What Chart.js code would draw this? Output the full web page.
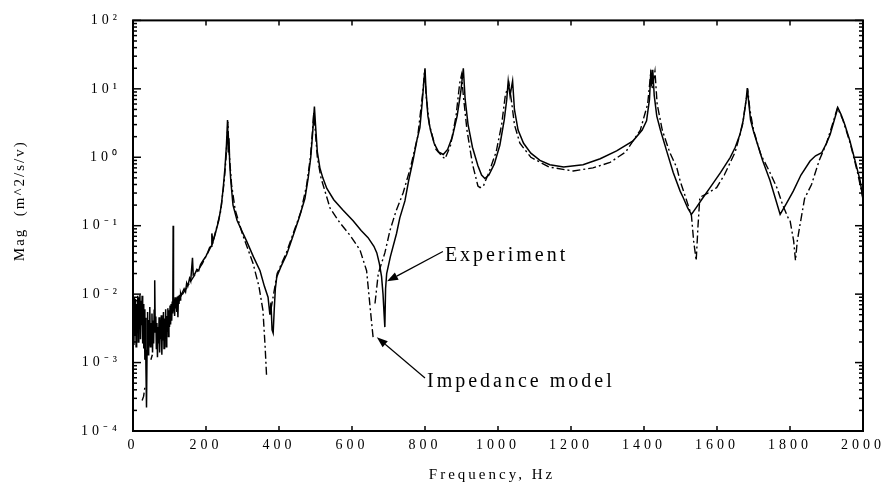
<!DOCTYPE html>
<html>
<head>
<meta charset="utf-8">
<script src="https://cdn.jsdelivr.net/npm/chart.js@4.4.1/dist/chart.umd.min.js"></script>
<style>
  html, body { margin: 0; padding: 0; background: #fff; }
  #chart { display: block; }
</style>
</head>
<body>
<canvas id="chart" width="887" height="489"></canvas>
<script>
// measured curve (solid)
const expFreq = [1,2.5,4,5.5,7,8.5,10,11.5,13,14.5,16,17.5,19,20.5,22,23.5,25,26.5,28,29.5,31,32.5,34,35.5,37,38.5,40,41.5,43,44.5,46,47.5,49,50.5,52,53.5,55,56.5,58,59.5,61,62.5,64,65.5,67,68.5,70,71.5,73,74.5,76,77.5,79,80.5,82,83.5,85,86.5,88,89.5,91,92.5,94,95.5,97,98.5,100,101.5,103,104.5,106,107.5,109,110,111,112.5,114,115.5,117,118.5,120,121.5,123,124.5,126,127.5,129,130.5,132,135,140,144,147,150,155,158,163,165,170,175,180,185,192,200,205,210,214,216,219,225,235,242,247,252,256,259,261,263,265,268,274,285,300,311,330,348,360,370,375,378,381,384,387,390,394,405,421,440,455,471,480,487,492,497,500,505,512,520,531,550,575,603,625,644,660,668,675,681,685,688,690,692,695,705,722,731,745,755,767,778,786,792,797,800,803,808,815,825,837,850,862,875,888,898,905,910,918,930,945,955,964,975,990,1005,1017,1024,1028,1033,1040,1045,1055,1070,1090,1115,1142,1180,1233,1280,1325,1370,1395,1407,1415,1419,1422,1424,1428,1435,1445,1462,1480,1499,1507,1520,1530,1545,1560,1581,1610,1636,1650,1663,1672,1680,1683,1686,1692,1700,1708,1725,1745,1760,1773,1790,1809,1830,1855,1870,1887,1900,1910,1920,1931,1940,1950,1964,1978,1992,2000];
const expMag = [0.006,0.0018,0.009,0.0025,0.0085,0.0017,0.007,0.0035,0.0095,0.002,0.009,0.0045,0.0098,0.0022,0.008,0.0035,0.0095,0.0019,0.0072,0.0016,0.006,0.0011,0.0045,0.0008,0.00022,0.0015,0.0055,0.0013,0.0042,0.0018,0.0065,0.0017,0.0038,0.0024,0.0052,0.0014,0.0041,0.0019,0.0058,0.016,0.0028,0.0047,0.0016,0.0038,0.0012,0.0033,0.0019,0.0046,0.0014,0.0037,0.0022,0.0049,0.0013,0.0035,0.0021,0.0055,0.0016,0.0044,0.0026,0.006,0.0017,0.0048,0.0029,0.0062,0.0024,0.0058,0.0033,0.0068,0.0036,0.0072,0.0041,0.0078,0.0052,0.1,0.0056,0.0085,0.0048,0.009,0.0062,0.0088,0.0055,0.0092,0.0046,0.0095,0.0072,0.0098,0.0082,0.0102,0.0095,0.0105,0.012,0.0108,0.0144,0.013,0.017,0.0155,0.034,0.019,0.02,0.023,0.022,0.027,0.031,0.036,0.041,0.048,0.05,0.077,0.058,0.075,0.12,0.2,0.35,0.7,1.5,3.5,1.2,1.9,0.8,0.45,0.2,0.12,0.08,0.06,0.035,0.022,0.013,0.009,0.005,0.0075,0.003,0.0027,0.006,0.012,0.018,0.025,0.038,0.075,0.13,0.25,0.5,1.0,2.2,5.5,3.0,1.2,0.7,0.5,0.35,0.24,0.17,0.118,0.085,0.067,0.05,0.04,0.028,0.018,0.01,0.005,0.0033,0.012,0.02,0.035,0.077,0.13,0.23,0.45,0.89,1.8,2.7,6,13,20,9,4,2.5,1.6,1.2,1.1,1.3,2,4,9,20,7,3,1.4,0.75,0.55,0.49,0.55,0.8,1.5,3.5,7,13,8,13,5,2.5,1.6,1.15,0.9,0.78,0.72,0.78,0.95,1.24,1.74,2.5,3.4,7,19,12,19,8,4,2.5,1.24,0.6,0.32,0.26,0.18,0.146,0.19,0.25,0.36,0.6,0.99,1.4,2.16,3.5,7,10.3,7,3.5,2.4,1.74,0.9,0.46,0.25,0.146,0.21,0.32,0.55,0.88,1.05,1.17,1.6,2.16,3.3,5.3,4.2,3.0,1.74,0.9,0.46,0.24];

// model curve (dash-dot), null = gap in the trace
const modelFreq = [25,29,33,35,49,53,56,135,160,190,218,240,250,255,258,260,262,265,270,280,300,329,345,356,362,366,368,378,395,420,440,460,476,486,492,495,498,505,515,540,567,595,622,640,654,658,660,663,672,690,704,720,740,760,780,795,799,803,812,830,850,855,870,885,895,900,905,915,930,945,951,960,975,995,1010,1020,1030,1038,1045,1060,1090,1140,1206,1260,1307,1350,1390,1410,1418,1422,1430,1436,1450,1470,1490,1499,1515,1530,1536,1543,1548,1553,1575,1599,1620,1650,1670,1680,1685,1690,1700,1720,1745,1765,1780,1795,1800,1810,1815,1820,1827,1840,1859,1880,1900,1920,1930,1945,1965,1985,2000];
const modelMag = [0.00028,0.00032,0.00045,null,0.0011,0.0013,null,0.0098,0.016,0.028,0.055,0.16,0.45,1.0,2.0,3.3,1.6,0.9,0.4,0.17,0.075,0.028,0.013,0.0058,0.0017,0.00063,null,0.006,0.02,0.04,0.08,0.16,0.4,1.0,2.5,4.5,3,1.0,0.5,0.18,0.11,0.072,0.044,0.022,0.0037,0.0023,null,0.0073,0.02,0.04,0.085,0.16,0.3,0.7,2.0,10,19,8,3,1.3,1.0,0.95,1.5,4,12,16,8,2.5,0.8,0.38,0.36,0.38,0.6,1.2,3,8,12,6,3,1.6,1.0,0.72,0.63,0.7,0.84,1.2,2.5,6,16,10,18,6,2.5,1.2,0.7,0.45,0.25,0.14,0.06,0.031,0.1,0.26,0.3,0.36,0.55,1.2,3,7,9,5,2.5,1.1,0.6,0.35,0.2,0.13,0.12,0.06,0.031,0.06,0.1,0.25,0.4,0.9,1.6,3.5,5.3,3.5,1.6,0.6,0.25];

const xTicks = [0,200,400,600,800,1000,1200,1400,1600,1800,2000];
const yExponents = [-4,-3,-2,-1,0,1,2];

// annotation labels with arrow tail / tip in data units [Hz, mag]
const noteText = ["Experiment", "Impedance model"];
const noteTail = [[849, 0.042], [800, 0.000594]];
const noteTip = [[696, 0.0154], [668, 0.00235]];

const SERIF = "'Liberation Serif', 'Times New Roman', serif";
const SUP = { "-": "\u207B", "0": "\u2070", "1": "\u00B9", "2": "\u00B2", "3": "\u00B3", "4": "\u2074" };

const toPoints = (xs, ys) => xs.map((x, i) => ({ x, y: ys[i] }));

const isDecade = (v) => Math.abs(Math.log10(v) - Math.round(Math.log10(v))) < 1e-6;
const isWholeMantissa = (v) => {
  const m = v / Math.pow(10, Math.floor(Math.log10(v) + 1e-9));
  return Math.abs(m - Math.round(m)) < 1e-6;
};

const framePlugin = {
  id: "frame",
  beforeDraw(chart) {
    chart.ctx.letterSpacing = "4px";
  },
  afterDraw(chart) {
    const { ctx, chartArea: a, scales } = chart;
    const xs = scales.x;
    const ys = scales.y;
    ctx.save();
    ctx.strokeStyle = "#000";
    ctx.fillStyle = "#000";
    ctx.lineWidth = 2;
    ctx.strokeRect(a.left, a.top, a.right - a.left, a.bottom - a.top);

    const seg = (x1, y1, x2, y2) => {
      ctx.beginPath();
      ctx.moveTo(x1, y1);
      ctx.lineTo(x2, y2);
      ctx.stroke();
    };

    // inward ticks
    ctx.lineWidth = 1.5;
    xs.ticks.forEach((t) => {
      const px = xs.getPixelForValue(t.value);
      seg(px, a.bottom, px, a.bottom - 5);
      seg(px, a.top, px, a.top + 5);
    });
    ys.ticks.forEach((t) => {
      if (!isWholeMantissa(t.value)) return;
      const py = ys.getPixelForValue(t.value);
      const len = isDecade(t.value) ? 8 : 4;
      seg(a.left, py, a.left + len, py);
      seg(a.right, py, a.right - len, py);
    });

    // annotations
    ctx.lineWidth = 1.2;
    noteText.forEach((label, i) => {
      const tx = xs.getPixelForValue(noteTail[i][0]);
      const ty = ys.getPixelForValue(noteTail[i][1]);
      const hx = xs.getPixelForValue(noteTip[i][0]);
      const hy = ys.getPixelForValue(noteTip[i][1]);
      const ang = Math.atan2(hy - ty, hx - tx);
      const headLen = 11;
      const headW = 4;
      const bx = hx - headLen * Math.cos(ang);
      const by = hy - headLen * Math.sin(ang);
      seg(tx, ty, bx, by);
      ctx.beginPath();
      ctx.moveTo(hx, hy);
      ctx.lineTo(bx + headW * Math.sin(ang), by - headW * Math.cos(ang));
      ctx.lineTo(bx - headW * Math.sin(ang), by + headW * Math.cos(ang));
      ctx.closePath();
      ctx.fill();
      ctx.font = "20px " + SERIF;
      ctx.letterSpacing = "3px";
      ctx.textAlign = "left";
      ctx.textBaseline = "middle";
      ctx.fillText(label, tx + 2, ty + 4);
    });

    // axis titles
    ctx.font = "15px " + SERIF;
    ctx.textAlign = "center";
    ctx.textBaseline = "middle";
    ctx.letterSpacing = "3px";
    ctx.fillText("Frequency, Hz", (a.left + a.right) / 2 - 6, a.bottom + 44);
    ctx.translate(20, (a.top + a.bottom) / 2 - 25);
    ctx.rotate(-Math.PI / 2);
    ctx.letterSpacing = "2px";
    ctx.fillText("Mag  (m^2/s/v)", 0, 0);
    ctx.restore();
  }
};

Chart.defaults.font.family = SERIF;
Chart.defaults.color = "#000";

new Chart(document.getElementById("chart"), {
  type: "line",
  data: {
    datasets: [
      {
        label: "Experiment",
        data: toPoints(expFreq, expMag),
        borderColor: "#000",
        borderWidth: 1.5,
        pointRadius: 0,
        tension: 0,
        spanGaps: false
      },
      {
        label: "Impedance model",
        data: toPoints(modelFreq, modelMag),
        borderColor: "#000",
        borderWidth: 1.4,
        borderDash: [8, 3, 2, 3],
        pointRadius: 0,
        tension: 0,
        spanGaps: false
      }
    ]
  },
  options: {
    responsive: false,
    devicePixelRatio: 1,
    animation: false,
    layout: { padding: { top: 19, right: 24, left: 0, bottom: 0 } },
    plugins: { legend: { display: false }, tooltip: { enabled: false } },
    scales: {
      x: {
        type: "linear",
        min: 0,
        max: 2000,
        afterFit: (scale) => { scale.height = 58; },
        afterBuildTicks: (scale) => { scale.ticks = xTicks.map((v) => ({ value: v })); },
        grid: { display: false, drawTicks: false },
        border: { display: false },
        ticks: {
          font: { size: 14 },
          padding: 6,
          maxRotation: 0,
          autoSkip: false,
          callback: (v) => String(v)
        }
      },
      y: {
        type: "logarithmic",
        min: Math.pow(10, yExponents[0]),
        max: Math.pow(10, yExponents[yExponents.length - 1]),
        afterFit: (scale) => { scale.width = 133; },
        grid: { display: false, drawTicks: false },
        border: { display: false },
        ticks: {
          font: { size: 14 },
          padding: 12,
          autoSkip: false,
          callback: (v) => {
            if (!isDecade(v)) return "";
            const e = String(Math.round(Math.log10(v)));
            return "10" + e.split("").map((c) => SUP[c]).join("");
          }
        }
      }
    }
  },
  plugins: [framePlugin]
});
</script>
</body>
</html>
